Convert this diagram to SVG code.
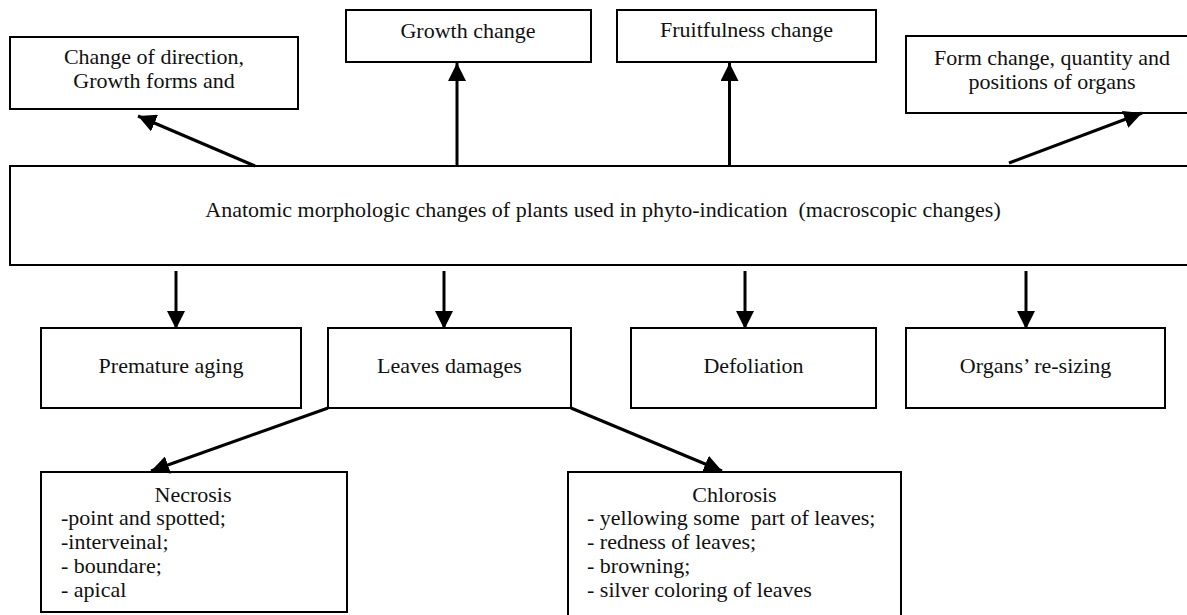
<svg xmlns="http://www.w3.org/2000/svg" width="1187" height="615" viewBox="0 0 1187 615">
<style>
.box{fill:#fff;stroke:#000;stroke-width:2}
.t{font-family:"Liberation Serif","Times New Roman",serif;font-size:22px;fill:#111;white-space:pre}
.c{text-anchor:middle}
.ln{stroke:#000;stroke-width:3;fill:none;marker-end:url(#ah)}
</style>
<defs>
<marker id="ah" markerUnits="userSpaceOnUse" markerWidth="18" markerHeight="18" refX="16" refY="8" orient="auto" viewBox="0 0 16 16">
<path d="M0,0 L16,8 L0,16 z" fill="#000"/>
</marker>
</defs>
<rect width="1187" height="615" fill="#fff"/>
<g id="n-direction"><rect class="box" x="10" y="37" width="288" height="72"/><text class="t c" x="154" y="64">Change of direction,</text><text class="t c" x="154" y="88">Growth forms and</text></g>
<g id="n-growth"><rect class="box" x="346" y="10" width="245" height="52"/><text class="t c" x="468" y="38">Growth change</text></g>
<g id="n-fruit"><rect class="box" x="617" y="10" width="259" height="52"/><text class="t c" x="746.5" y="37">Fruitfulness change</text></g>
<g id="n-form"><rect class="box" x="906" y="36" width="292" height="77"/><text class="t c" x="1052" y="65">Form change, quantity and</text><text class="t c" x="1052" y="89">positions of organs</text></g>
<g id="n-main"><rect class="box" x="10" y="166" width="1190" height="99"/><text class="t c" x="603" y="217">Anatomic morphologic changes of plants used in phyto-indication  (macroscopic changes)</text></g>
<g id="n-aging"><rect class="box" x="41" y="328" width="260" height="80"/><text class="t c" x="171" y="373">Premature aging</text></g>
<g id="n-leaves"><rect class="box" x="328" y="328" width="243" height="80"/><text class="t c" x="449.5" y="373">Leaves damages</text></g>
<g id="n-defol"><rect class="box" x="631" y="328" width="245" height="80"/><text class="t c" x="753.5" y="373">Defoliation</text></g>
<g id="n-organs"><rect class="box" x="906" y="328" width="259" height="80"/><text class="t c" x="1035.5" y="373">Organs’ re-sizing</text></g>
<g id="n-necrosis"><rect class="box" x="41" y="472" width="306" height="140"/><text class="t c" x="193" y="502">Necrosis</text><text class="t" x="61" y="525">-point and spotted;</text><text class="t" x="61" y="549">-interveinal;</text><text class="t" x="61" y="573">- boundare;</text><text class="t" x="61" y="597">- apical</text></g>
<g id="n-chlorosis"><rect class="box" x="568" y="472" width="333" height="150"/><text class="t c" x="734.5" y="502">Chlorosis</text><text class="t" x="587" y="525">- yellowing some  part of leaves;</text><text class="t" x="587" y="549">- redness of leaves;</text><text class="t" x="587" y="573">- browning;</text><text class="t" x="587" y="597">- silver coloring of leaves</text></g>
<g id="connectors">
<line class="ln" x1="255" y1="166" x2="138" y2="116"/>
<line class="ln" x1="457" y1="166" x2="457" y2="63"/>
<line class="ln" x1="729.5" y1="166" x2="729.5" y2="63"/>
<line class="ln" x1="1009" y1="163" x2="1142" y2="113"/>
<line class="ln" x1="176" y1="271" x2="176" y2="329"/>
<line class="ln" x1="444" y1="271" x2="444" y2="329"/>
<line class="ln" x1="745" y1="271" x2="745" y2="329"/>
<line class="ln" x1="1026" y1="271" x2="1026" y2="329"/>
<line class="ln" x1="328" y1="408" x2="151" y2="471"/>
<line class="ln" x1="571" y1="408" x2="722" y2="471"/>
</g>
</svg>
